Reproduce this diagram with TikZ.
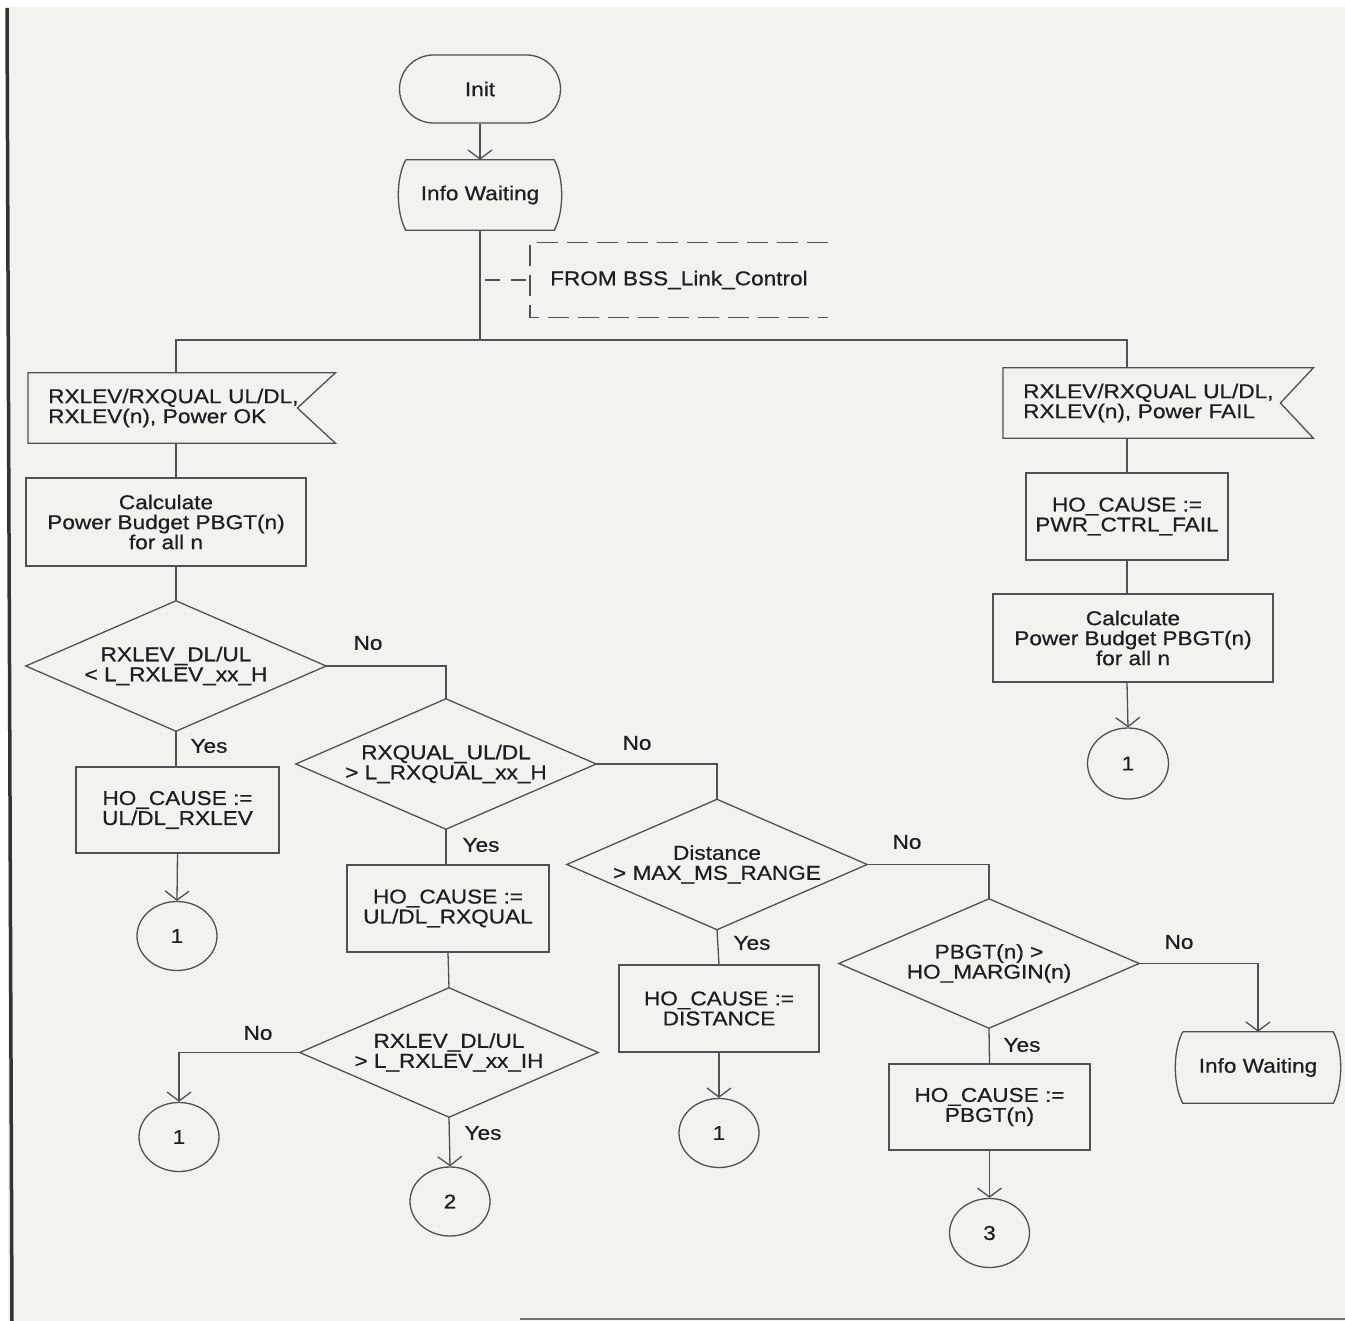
\documentclass[tikz,border=0pt]{standalone}
\usepackage{fontspec}
\setmainfont{Liberation Sans}[FakeStretch=1.13,FakeBold=0.6]
\usetikzlibrary{shapes.geometric,arrows.meta,calc}
\definecolor{pagec}{HTML}{F2F2EE}
\definecolor{lc}{HTML}{505050}
\definecolor{tc}{HTML}{1E1E1E}
\newcommand{\statesym}[1]{\draw[ln] (#1.north west) -- (#1.north east) .. controls +(10,18) and +(10,-18) .. (#1.south east) -- (#1.south west) .. controls +(-10,-18) and +(-10,18) .. (#1.north west);}
\newcommand{\inputsym}[2]{\draw[ln] (#1.north west) -- (#1.north east) -- ($(#1.east)+(-#2,0)$) -- (#1.south east) -- (#1.south west) -- cycle;}
\newcommand{\diasym}[1]{\draw[ln] (#1.north) -- (#1.east) -- (#1.south) -- (#1.west) -- cycle;}
\tikzset{
  ln/.style={draw=lc, line width=1.3pt},
  arr/.style={-{Straight Barb[length=9pt,width=24pt,line width=1.3pt]}},
  dsh/.style={dash pattern=on 21pt off 9pt},
  txt/.style={font=\fontsize{20}{20}\selectfont, text=tc, inner sep=0pt, align=center},
  procbox/.style={txt, ln, rectangle},
  decbox/.style={txt, minimum width=300pt, minimum height=130pt},
  conn/.style={txt, ln, ellipse, minimum width=80pt, minimum height=69pt},
  insig/.style={txt, anchor=west, minimum height=70pt, inner xsep=20pt, align=left},
  lab/.style={txt}
}
\begin{document}
\begin{tikzpicture}[x=1pt,y=-1pt]
\useasboundingbox (0,0) rectangle (1345,1321);
\fill[white] (0,0) rectangle (1345,1321);
\fill[pagec] (8,7) rectangle (1345,1321);
\draw[line width=3.5pt, black!80] (7,8) -- (12,1321);
\draw[line width=1.5pt, black!55] (520,1319) -- (1345,1319);

% top part
\node[procbox, rounded corners=34pt, minimum width=161pt, minimum height=68pt] (init) at (480,89) {Init};
\node[txt, minimum width=148pt, minimum height=70pt] (iw1) at (480,195) {Info Waiting};
\statesym{iw1}
\coordinate (j) at (480,340);
\node[txt, anchor=west, inner xsep=20pt, minimum height=74pt, align=left] (cm) at (530,280) {FROM BSS\_Link\_Control};
\coordinate (cj) at (480,280);

% left branch
\node[insig, minimum width=307pt, text width=267pt] (in1) at (28,408) {RXLEV/RXQUAL UL/DL,\\RXLEV(n), Power OK};
\inputsym{in1}{38}
\node[procbox, minimum width=280pt, minimum height=88pt] (calc1) at (166,522) {Calculate\\Power Budget PBGT(n)\\for all n};
\node[decbox] (d1) at (176,666) {RXLEV\_DL/UL\\< L\_RXLEV\_xx\_H};
\diasym{d1}
\node[procbox, minimum width=203pt, minimum height=86pt] (b1) at (177.5,810) {HO\_CAUSE :=\\UL/DL\_RXLEV};
\node[conn] (c1) at (177,936) {1};

\node[decbox] (d2) at (446,764) {RXQUAL\_UL/DL\\> L\_RXQUAL\_xx\_H};
\diasym{d2}
\node[procbox, minimum width=202pt, minimum height=87pt] (b2) at (448,908.5) {HO\_CAUSE :=\\UL/DL\_RXQUAL};
\node[decbox, minimum width=298pt, minimum height=129pt] (d4) at (449,1052.5) {RXLEV\_DL/UL\\> L\_RXLEV\_xx\_IH};
\diasym{d4}
\node[conn] (c4) at (179,1137) {1};
\node[conn] (c5) at (450,1201.5) {2};

\node[decbox] (d3) at (717,864.5) {Distance\\> MAX\_MS\_RANGE};
\diasym{d3}
\node[procbox, minimum width=200pt, minimum height=87pt] (b3) at (719,1008.5) {HO\_CAUSE :=\\DISTANCE};
\node[conn] (c3) at (719,1133) {1};

\node[decbox, minimum height=129pt] (d5) at (989,963.5) {PBGT(n) >\\HO\_MARGIN(n)};
\diasym{d5}
\node[procbox, minimum width=201pt, minimum height=86pt] (b5) at (989.5,1107) {HO\_CAUSE :=\\PBGT(n)};
\node[conn] (c6) at (989.5,1233) {3};
\node[txt, minimum width=150pt, minimum height=71pt] (iw2) at (1258,1067.5) {Info Waiting};
\statesym{iw2}

% right branch
\node[insig, minimum width=310pt, text width=270pt] (in2) at (1003,403) {RXLEV/RXQUAL UL/DL,\\RXLEV(n), Power FAIL};
\inputsym{in2}{33}
\node[procbox, minimum width=202pt, minimum height=87pt] (bp) at (1127,516.5) {HO\_CAUSE :=\\PWR\_CTRL\_FAIL};
\node[procbox, minimum width=280pt, minimum height=88pt] (calc2) at (1133,638) {Calculate\\Power Budget PBGT(n)\\for all n};
\node[conn, minimum width=81pt, minimum height=71pt] (c2) at (1128,763.5) {1};

% labels
\node[lab] (n1) at (368,643) {No};
\node[lab] (n2) at (637,743) {No};
\node[lab] (n3) at (907,842) {No};
\node[lab] (n4) at (1179,942) {No};
\node[lab] (n5) at (258,1033) {No};
\node[lab] (y1) at (209,746) {Yes};
\node[lab] (y2) at (481,845) {Yes};
\node[lab] (y3) at (752,943) {Yes};
\node[lab] (y4) at (483,1133) {Yes};
\node[lab] (y5) at (1022,1045) {Yes};

% connectors
\draw[ln, arr] (init.south) -- (iw1.north);
\draw[ln] (iw1.south) -- (j);
\draw[ln, dsh] (cm.north east) -- (cm.north west) -- (cm.south west) -- (cm.south east);
\draw[ln, dash pattern=on 15pt off 11pt, dash phase=-5pt] (cj) -- (cm.west);
\draw[ln] (in1.north -| d1.north) |- (j) -| (in2.north -| bp.north);
\draw[ln] (in1.south -| d1.north) -- (calc1.north -| d1.north);
\draw[ln] (calc1.south -| d1.north) -- (d1.north);
\draw[ln] (d1.south) -- (d1.south |- b1.north);
\draw[ln, arr] (b1.south) -- (c1.north);
\draw[ln] (d1.east) -| (d2.north);
\draw[ln] (d2.south) -- (d2.south |- b2.north);
\draw[ln] (b2.south) -- (d4.north);
\draw[ln, arr] (d4.west) -| (c4.north);
\draw[ln, arr] (d4.south) -- (c5.north);
\draw[ln] (d2.east) -| (d3.north);
\draw[ln] (d3.south) -- (b3.north);
\draw[ln, arr] (b3.south) -- (c3.north);
\draw[ln] (d3.east) -| (d5.north);
\draw[ln] (d5.south) -- (b5.north);
\draw[ln, arr] (b5.south) -- (c6.north);
\draw[ln, arr] (d5.east) -| (iw2.north);
\draw[ln] (in2.south -| bp.north) -- (bp.north);
\draw[ln] (bp.south) -- (calc2.north -| bp.south);
\draw[ln, arr] (calc2.south -| bp.south) -- (c2.north);
\end{tikzpicture}
\end{document}
